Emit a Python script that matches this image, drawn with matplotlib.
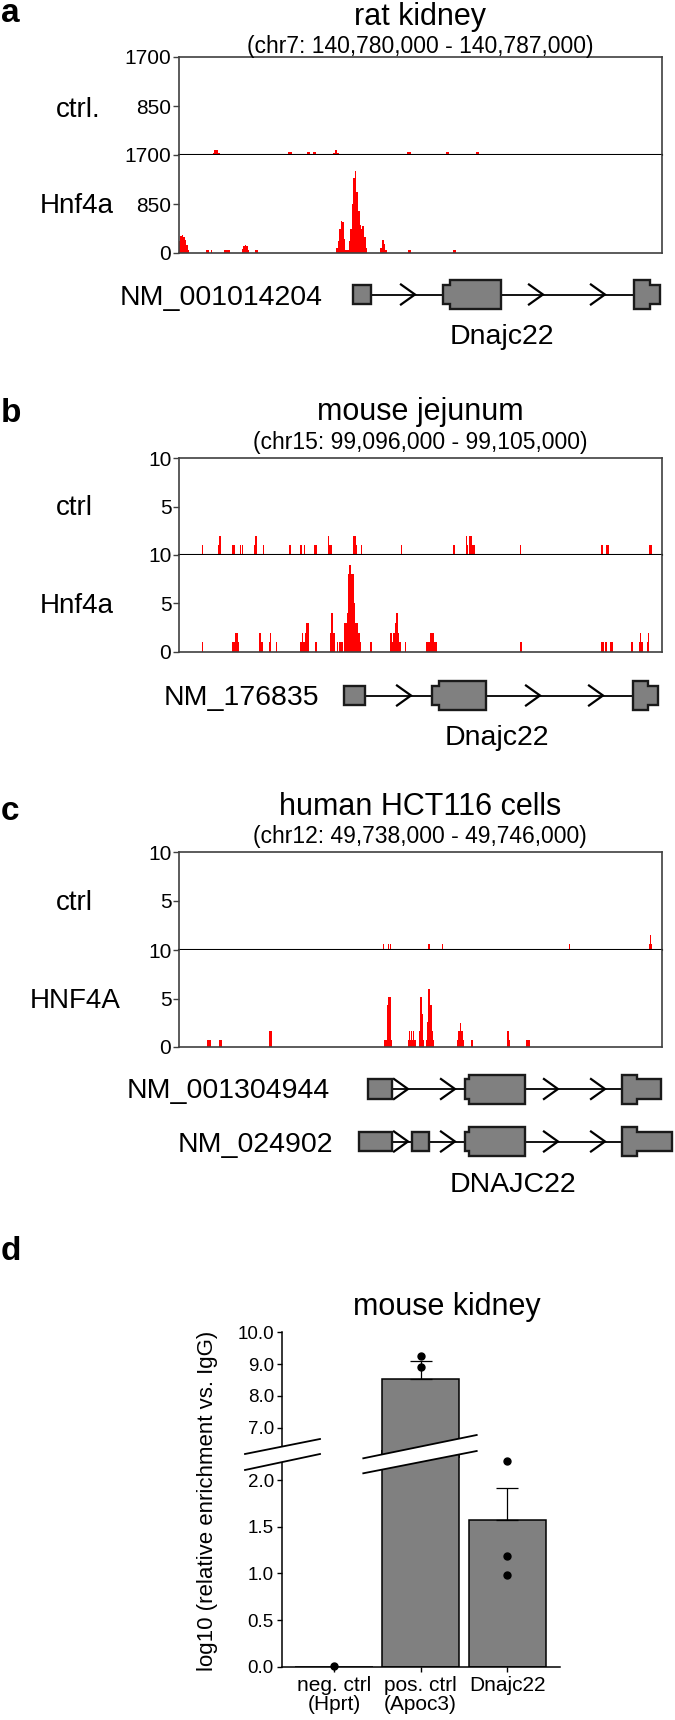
import matplotlib
matplotlib.use('Agg')
import matplotlib.pyplot as plt
from matplotlib.patches import Polygon
from matplotlib.lines import Line2D

plt.rcParams['font.family'] = ['Liberation Sans', 'DejaVu Sans']

# ---- data: ChIP-seq tracks (bp offset from window start, signal) ----
a_span = 7000
a_ctrl_pos = [500, 525, 550, 575, 1595, 1620, 1862, 1886, 1950, 1975, 2250, 2275, 2300,
              3320, 3345, 3880, 3905, 4310, 4335]
a_ctrl_val = [40, 85, 85, 40, 45, 45, 45, 45, 45, 45, 40, 85, 40, 45, 45, 45, 45, 45, 45]
a_hnf_pos = [10, 30, 52, 74, 96, 118, 140, 400, 422, 470, 660, 682, 704, 726,
             920, 942, 964, 986, 1008, 1115, 1135,
             2290, 2312, 2334, 2356, 2378, 2400, 2422,
             2450, 2472, 2494, 2516, 2538, 2560, 2582, 2604, 2626, 2648, 2670, 2692, 2714,
             2930, 2952, 2974, 2996, 3330, 3350, 3985, 4005]
a_hnf_val = [200, 290, 310, 280, 220, 140, 60, 50, 50, 50, 50, 50, 50, 50,
             70, 130, 145, 120, 50, 50, 50,
             80, 200, 420, 560, 540, 250, 60,
             60, 200, 420, 850, 1300, 1420, 1050, 720, 480, 420, 460, 280, 80,
             90, 230, 150, 50, 50, 50, 50, 50]

b_span = 9000
b_ctrl_pos = [435, 733, 752, 776, 1000, 1025, 1149, 1180, 1416, 1435, 1571, 2056, 2081,
              2267, 2286, 2335, 2528, 2553, 2789, 2814, 2832, 3249, 3280, 3298, 3404,
              4143, 5124, 5354, 5379, 5416, 5441, 5466, 5497, 6360, 7870, 7895, 7969,
              7994, 8777, 8795]
b_ctrl_val = [1, 1, 2, 2, 1, 1, 1, 1, 1, 2, 1, 1, 1,
              1, 1, 1, 1, 1, 2, 1, 1, 2, 2, 1, 1,
              1, 1, 2, 1, 2, 2, 1, 1, 1, 1, 1, 1,
              1, 1, 1]
b_hnf_pos = [435, 1000, 1025, 1056, 1081, 1106, 1509, 1528, 1547, 1683, 1708, 1814,
             2273, 2298, 2317, 2342, 2360, 2379, 2404, 2553, 2832, 2851, 2876, 2895,
             2957, 2988, 3013, 3037, 3093, 3118, 3143, 3168, 3186, 3205, 3224, 3242,
             3261, 3280, 3298, 3317, 3335, 3354, 3373, 3565, 3590, 3950, 3969, 3994,
             4013, 4037, 4056, 4075, 4093, 4118, 4218, 4615, 4640, 4665, 4690, 4714,
             4739, 4764, 4789, 6373, 7882, 7907, 7957, 8044, 8069, 8441, 8578, 8603,
             8628, 8727, 8752]
b_hnf_val = [1, 1, 1, 2, 2, 1, 2, 1, 1, 1, 2, 1,
             1, 2, 1, 1, 2, 3, 3, 1, 2, 4, 2, 2,
             1, 1, 1, 1, 3, 3, 4, 8, 9, 8, 7, 8,
             5, 3, 3, 3, 2, 2, 1, 1, 1, 2, 1, 2,
             2, 3, 4, 4, 2, 1, 1, 1, 1, 1, 2, 2,
             2, 1, 1, 1, 1, 1, 1, 1, 1, 1, 1, 2,
             1, 1, 2]

c_span = 8000
c_ctrl_pos = [3384, 3473, 3506, 4141, 4362, 6465, 7795, 7812, 7828]
c_ctrl_val = [0.65, 0.65, 0.65, 0.65, 0.65, 0.65, 0.65, 1.5, 0.65]
c_hnf_pos = [480, 497, 513, 668, 685, 701, 1502, 1518, 1535,
             3401, 3417, 3434, 3451, 3462, 3478, 3495, 3511,
             3804, 3820, 3837, 3854, 3870, 3887, 3903, 3920,
             3981, 3997, 4014, 4030, 4047,
             4097, 4113, 4130, 4141, 4152, 4168, 4185, 4201, 4218,
             4616, 4632, 4649, 4665, 4682, 4698, 4715,
             4842, 4864, 5444, 5460, 5477, 5764, 5786, 5802]
c_hnf_val = [0.7, 0.7, 0.7, 0.7, 0.7, 0.7, 1.6, 1.6, 1.6,
             0.7, 0.7, 0.7, 1.6, 4.3, 5.2, 5.2, 0.7,
             0.7, 1.6, 0.7, 1.6, 0.7, 1.6, 0.7, 0.7,
             1.6, 5.2, 5.2, 3.4, 0.7,
             0.7, 2.6, 4.3, 6.0, 5.2, 4.3, 4.3, 1.6, 0.7,
             0.7, 1.6, 1.6, 2.5, 1.6, 1.6, 0.7,
             0.7, 0.7, 1.6, 1.6, 0.7, 0.7, 0.7, 0.7]

# ---- data: gene models (exon pieces: start, end, 't' coding / 'n' UTR) ----
a_exons = [[(2517, 2787, 'n')], [(3821, 3927, 'n'), (3927, 4666, 't')],
           [(6593, 6825, 't'), (6825, 6970, 'n')]]
a_chev = [3420, 5275, 6173]
b_exons = [[(3075, 3466, 'n')], [(4714, 4845, 'n'), (4845, 5721, 't')],
           [(8460, 8739, 't'), (8739, 8925, 'n')]]
b_chev = [4323, 6727, 7901]
c1_exons = [[(3130, 3528, 'n')], [(4737, 4803, 'n'), (4803, 5731, 't')],
            [(7337, 7586, 't'), (7586, 7984, 'n')]]
c2_exons = [[(2981, 3528, 'n')], [(3859, 4141, 'n')], [(4737, 4803, 'n'), (4803, 5731, 't')],
            [(7337, 7586, 't'), (7586, 8166, 'n')]]
c_chev = [3793, 4571, 6277, 7056]

# ---- data: panel d ----
d_categories = ['neg. ctrl\n(Hprt)', 'pos. ctrl\n(Apoc3)', 'Dnajc22']
d_means = [0.0, 8.52, 1.57]
d_err = [0.0, 0.58, 0.35]
d_points = [[0.01], [9.25, 8.92], [2.21, 1.19, 0.98]]

W, H = 675, 1720
fig = plt.figure(figsize=(W / 100, H / 100), dpi=100)
FRAME = '#404040'
HALF = {'t': 14.5, 'n': 9.8}


def box(l, t, r, b):
    return [l / W, 1 - b / H, (r - l) / W, (b - t) / H]


def put(x, y, s, **kw):
    kw.setdefault('va', 'baseline')
    fig.text(x / W, 1 - y / H, s, **kw)


def track(top, mid, bot, span, ymax, labels, ctrl, hnf, width):
    ax1 = fig.add_axes(box(179, top, 662, mid))
    ax2 = fig.add_axes(box(179, mid, 662, bot))
    for ax, (pos, val) in zip((ax1, ax2), (ctrl, hnf)):
        ax.bar(pos, val, width=width, color='red', linewidth=0)
        ax.set_xlim(0, span)
        ax.set_ylim(0, ymax)
        ax.set_xticks([])
        ax.tick_params(axis='y', length=4, width=1, color=FRAME, pad=1.5, labelsize=15)
        for s in ax.spines.values():
            s.set_color(FRAME)
            s.set_linewidth(1.2)
    ax1.set_yticks([ymax / 2, ymax], labels[1:])
    ax2.set_yticks([0, ymax / 2, ymax], labels)
    ax1.spines['bottom'].set_color('black')
    ax1.spines['bottom'].set_linewidth(1.5)
    ax2.spines['top'].set_visible(False)


def gene(cy, span, exons, chevrons):
    ax = fig.add_axes(box(179, cy - 20, 662, cy + 20))
    ax.set_xlim(0, span)
    ax.set_ylim(-20, 20)
    ax.axis('off')
    ax.plot([exons[0][-1][1], exons[-1][0][0]], [0, 0], color='black', lw=1.3, zorder=1)
    cw = 14 * span / 483
    for tip in chevrons:
        ax.plot([tip - cw, tip, tip - cw], [10, 0, -10], color='black', lw=1.6,
                zorder=2, solid_joinstyle='miter')
    for ex in exons:
        top = []
        for x0, x1, k in ex:
            top += [(x0, HALF[k]), (x1, HALF[k])]
        bottom = [(x, -y) for x, y in reversed(top)]
        ax.add_patch(Polygon(top + bottom, closed=True, facecolor='#808080',
                             edgecolor='#1a1a1a', lw=1.7, zorder=3, clip_on=False))


# ---- panel a ----
put(1, 22, 'a', fontsize=24, fontweight='bold')
put(420, 25, 'rat kidney', ha='center', fontsize=22)
put(420, 53, '(chr7: 140,780,000 - 140,787,000)', ha='center', fontsize=16.5)
track(57, 155, 253, a_span, 1700, ['0', '850', '1700'],
      (a_ctrl_pos, a_ctrl_val), (a_hnf_pos, a_hnf_val), 24)
put(78, 117, 'ctrl.', ha='center', fontsize=20)
put(77, 213, 'Hnf4a', ha='center', fontsize=20)
gene(294.5, a_span, a_exons, a_chev)
put(323, 305, 'NM_001014204', ha='right', fontsize=20.5)
put(502, 344, 'Dnajc22', ha='center', fontsize=20.5)

# ---- panel b ----
put(1, 422, 'b', fontsize=24, fontweight='bold')
put(420, 420, 'mouse jejunum', ha='center', fontsize=22)
put(420, 449, '(chr15: 99,096,000 - 99,105,000)', ha='center', fontsize=16.5)
track(458, 555, 652, b_span, 10, ['0', '5', '10'],
      (b_ctrl_pos, b_ctrl_val), (b_hnf_pos, b_hnf_val), 24)
put(74, 515, 'ctrl', ha='center', fontsize=20)
put(77, 613, 'Hnf4a', ha='center', fontsize=20)
gene(695.5, b_span, b_exons, b_chev)
put(319, 705, 'NM_176835', ha='right', fontsize=20.5)
put(497, 745, 'Dnajc22', ha='center', fontsize=20.5)

# ---- panel c ----
put(1, 820, 'c', fontsize=24, fontweight='bold')
put(420, 815, 'human HCT116 cells', ha='center', fontsize=22)
put(420, 843, '(chr12: 49,738,000 - 49,746,000)', ha='center', fontsize=16.5)
track(852, 950, 1047, c_span, 10, ['0', '5', '10'],
      (c_ctrl_pos, c_ctrl_val), (c_hnf_pos, c_hnf_val), 20)
put(74, 910, 'ctrl', ha='center', fontsize=20)
put(75, 1008, 'HNF4A', ha='center', fontsize=20)
gene(1089, c_span, c1_exons, c_chev)
gene(1141.5, c_span, c2_exons, c_chev)
put(330, 1098, 'NM_001304944', ha='right', fontsize=20.5)
put(333, 1152, 'NM_024902', ha='right', fontsize=20.5)
put(513, 1192, 'DNAJC22', ha='center', fontsize=20.5)

# ---- panel d: broken-axis bar chart ----
put(1, 1260, 'd', fontsize=24, fontweight='bold')
put(447, 1315, 'mouse kidney', ha='center', fontsize=22)
lo = fig.add_axes(box(281.7, 1450, 560, 1666.7))
hi = fig.add_axes(box(281.7, 1332.3, 560, 1458))
xs = range(len(d_categories))
for ax, (y0, y1) in ((lo, (0, 2.323)), (hi, (6.047, 10))):
    ax.bar(xs, d_means, width=0.894, color='#808080', edgecolor='black',
           linewidth=1.1, zorder=2)
    for i in xs:
        if d_err[i] > 0 and y0 <= d_means[i] <= y1:
            ax.errorbar(i, d_means[i], yerr=[[0], [d_err[i]]], fmt='none', ecolor='black',
                        elinewidth=0.9, capsize=8, capthick=0.9, zorder=3)
        pts = [p for p in d_points[i] if y0 <= p <= y1]
        ax.plot([i] * len(pts), pts, 'o', color='black', ms=5, zorder=4, clip_on=False)
    ax.set_xlim(-0.604, 2.608)
    ax.set_ylim(y0, y1)
    ax.patch.set_visible(False)
    ax.spines['top'].set_visible(False)
    ax.spines['right'].set_visible(False)
    ax.spines['left'].set_linewidth(1.1)
    ax.spines['bottom'].set_linewidth(1.1)
    ax.tick_params(axis='y', length=3.6, width=1, pad=2, labelsize=13.5)
hi.spines['bottom'].set_visible(False)
hi.set_xticks([])
hi.set_yticks([7, 8, 9, 10], ['7.0', '8.0', '9.0', '10.0'])
lo.set_yticks([0, 0.5, 1.0, 1.5, 2.0], ['0.0', '0.5', '1.0', '1.5', '2.0'])
lo.tick_params(axis='x', length=3.6, width=1, pad=3, labelsize=15)
lo.set_xticks(list(xs), d_categories)
for t in lo.get_xticklabels():
    t.set_linespacing(1.0)
put(207.5, 1501, 'log10 (relative enrichment vs. IgG)', ha='center', va='center',
    rotation=90, fontsize=16)

# break marks
for (xa, ya1, ya2), (xb, yb1, yb2) in [((245, 1454, 1470), (320, 1439, 1454)),
                                       ((363.3, 1458.3, 1473.3), (476.7, 1435, 1451))]:
    pts = [(xa / W, 1 - ya1 / H), (xb / W, 1 - yb1 / H),
           (xb / W, 1 - yb2 / H), (xa / W, 1 - ya2 / H)]
    fig.add_artist(Polygon(pts, closed=True, facecolor='white', edgecolor='none',
                           transform=fig.transFigure, zorder=10))
    for p, q in ((pts[0], pts[1]), (pts[3], pts[2])):
        fig.add_artist(Line2D([p[0], q[0]], [p[1], q[1]], color='black', lw=1.3,
                              transform=fig.transFigure, zorder=11))

fig.savefig('out.png', dpi=100)
